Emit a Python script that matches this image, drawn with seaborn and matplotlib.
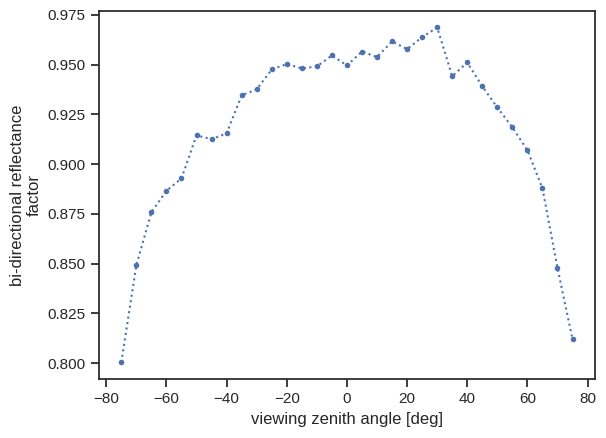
import matplotlib
matplotlib.use("Agg")
import matplotlib.pyplot as plt
import seaborn as sns
import pandas as pd

angles = [-75, -70, -65, -60, -55, -50, -45, -40, -35, -30, -25, -20, -15, -10, -5,
          0, 5, 10, 15, 20, 25, 30, 35, 40, 45, 50, 55, 60, 65, 70, 75]
brf = [0.8005, 0.8493, 0.8759, 0.8866, 0.8929, 0.9145, 0.9125, 0.9155, 0.9346, 0.9376,
       0.9476, 0.9503, 0.9481, 0.9491, 0.9546, 0.9496, 0.9566, 0.9538, 0.9617, 0.9578,
       0.9638, 0.9687, 0.9442, 0.9511, 0.9391, 0.9285, 0.9185, 0.9070, 0.8879, 0.8478,
       0.8121]

sns.set_theme(style="ticks")
plt.rcParams['font.family'] = ['Liberation Sans', 'DejaVu Sans']
df = pd.DataFrame({"angle": angles, "brf": brf})

fig, ax = plt.subplots(figsize=(6.06, 4.38), dpi=100)
fig.subplots_adjust(left=0.163, right=0.982, top=0.9756, bottom=0.1347)
sns.lineplot(data=df, x="angle", y="brf", ax=ax, linestyle=":", marker="o",
             markersize=4, markeredgewidth=0, color="#4C72B0", linewidth=1.5)
ax.set_xlabel("viewing zenith angle [deg]")
ax.set_ylabel("bi-directional reflectance\nfactor")
ax.set_xticks([-80, -60, -40, -20, 0, 20, 40, 60, 80])
ax.set_yticks([0.800, 0.825, 0.850, 0.875, 0.900, 0.925, 0.950, 0.975])
fig.savefig("out.png", dpi=100)
